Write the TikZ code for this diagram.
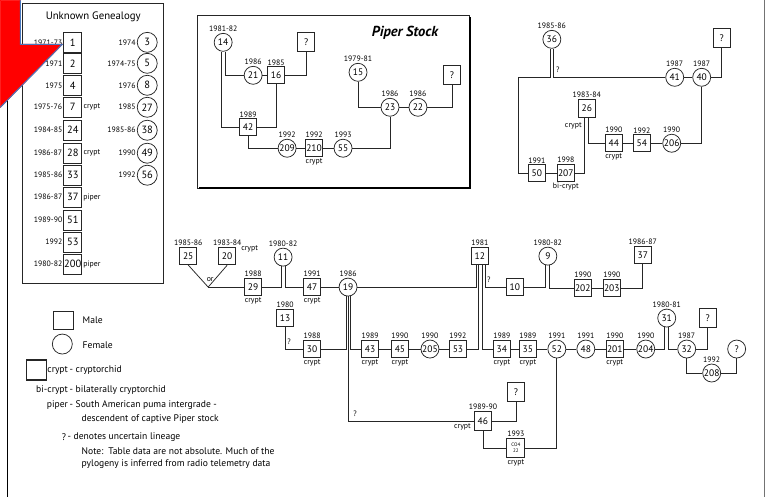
\documentclass[tikz,border=0pt]{standalone}
\usepackage{fontspec}
\setmainfont{PT Sans}
\usetikzlibrary{calc}
\begin{document}
\begin{tikzpicture}[x=1pt,y=-1pt,
  every node/.style={inner sep=0pt},
  every path/.style={line width=0.75pt, draw=black!85},
  msq/.style={draw=black!85, line width=0.75pt, minimum width=17pt, minimum height=17pt, font=\fontsize{9.5}{9.5}\selectfont},
  csq/.style={msq, line width=1.2pt},
  fcir/.style={circle, draw=black!85, line width=0.75pt, minimum size=18pt, font=\fontsize{9.5}{9.5}\selectfont},
  usq/.style={msq, minimum width=18pt, minimum height=20pt, font=\fontsize{10.5}{10.5}\selectfont},
  ucsq/.style={usq, line width=1.2pt},
  ucir/.style={fcir, minimum size=20pt, font=\fontsize{10.5}{10.5}\selectfont},
  yr/.style={font=\fontsize{7.8}{7.8}\selectfont, inner sep=0.8pt},
  lab/.style={font=\fontsize{9.6}{11}\selectfont},
]
\useasboundingbox (0,0) rectangle (769,497);
\fill[white] (0,0) rectangle (769,497);

% frame lines
\draw[line width=1.4pt, black] (7,100) -- (7,497);
\draw[line width=1pt, black!55] (765,0) -- (765,497);

% ---------- Unknown Genealogy ----------
\draw[line width=0.9pt] (22,3) rectangle (163,283);
\node[font=\fontsize{10.8}{11}\selectfont] (ugt) at (93,16) {Unknown Genealogy};
\node[usq, label={[yr]left:1971-73}] (u1) at (72.5,42) {1};
\node[usq, label={[yr]left:1971}] (u2) at (72.5,63) {2};
\node[usq, label={[yr]left:1975}] (u4) at (72.5,85) {4};
\node[ucsq, label={[yr]left:1975-76}, label={[yr]right:crypt}] (u7) at (72.5,107) {7};
\node[usq, label={[yr]left:1984-85}] (u24) at (72.5,130) {24};
\node[ucsq, label={[yr]left:1986-87}, label={[yr]right:crypt}] (u28) at (72.5,153) {28};
\node[usq, label={[yr]left:1985-86}] (u33) at (72.5,175) {33};
\node[usq, label={[yr]left:1986-87}, label={[yr]right:piper}] (u37) at (72.5,197) {37};
\node[usq, label={[yr]left:1989-90}] (u51) at (72.5,220) {51};
\node[usq, label={[yr]left:1992}] (u53) at (72.5,242) {53};
\node[usq, label={[yr]left:1980-82}, label={[yr]right:piper}] (u200) at (72.5,264) {200};
\node[ucir, label={[yr]left:1974}] (u3) at (147,42) {3};
\node[ucir, label={[yr]left:1974-75}] (u5) at (147,63) {5};
\node[ucir, label={[yr]left:1976}] (u8) at (147,85) {8};
\node[ucir, label={[yr]left:1985}] (u27) at (147,107) {27};
\node[ucir, label={[yr]left:1985-86}] (u38) at (147,130) {38};
\node[ucir, label={[yr]left:1990}] (u49) at (147,153) {49};
\node[ucir, label={[yr]left:1992}] (u56) at (147,175) {56};

% ---------- Piper Stock ----------
\draw[line width=0.9pt] (197,15) rectangle (470,188);
\draw[line width=2.6pt, black] (470,17) -- (470,188) -- (199,188);
\node[font=\fontsize{14.5}{14.5}\selectfont\bfseries\itshape] (pst) at (405,32) {Piper Stock};
\node[fcir, label={[yr]above:1981-82}] (p14) at (223,42) {14};
\node[fcir, label={[yr]above:1986}] (p21) at (253,75) {21};
\node[msq, label={[yr]above:1985}] (p16) at (276,75) {16};
\node[msq, minimum height=19pt] (pq1) at (306,42) {?};
\node[msq, label={[yr]above:1989}] (p42) at (248,127) {42};
\node[fcir, label={[yr]above:1992}] (p209) at (287,148) {209};
\node[csq, label={[yr]above:1992}, label={[yr]below:crypt}] (p210) at (314,148) {210};
\node[fcir, label={[yr]above:1993}] (p55) at (343,148) {55};
\node[fcir, label={[yr]above:1979-81}] (p15) at (358,72) {15};
\node[fcir, label={[yr]above:1986}] (p23) at (390,107) {23};
\node[fcir, label={[yr]above:1986}] (p22) at (418,107) {22};
\node[msq, minimum height=19pt] (pq2) at (452,75) {?};

\draw ([xshift=2pt]p14.south) |- (p21.west);
\draw ([xshift=-2pt]p14.south) |- (p42.west);
\draw (p21) -- (p16);
\draw (p16.east) -| (pq1.south);
\draw (p16.south) |- (p42.east);
\draw (p42.south) |- (p209.west);
\draw (p209) -- (p210);
\draw (p210) -- (p55);
\draw (p55.east) -| (p23.south);
\draw (p15.south) |- (p23.west);
\draw (p23) -- (p22);
\draw (p22.east) -| (pq2.south);

% ---------- top right cluster ----------
\node[fcir, label={[yr]above:1985-86}] (t36) at (552,39) {36};
\node[msq, minimum height=19pt] (tq) at (722,38) {?};
\node[fcir, label={[yr]above:1987}] (t41) at (675,77) {41};
\node[fcir, label={[yr]above:1987}] (t40) at (702,77) {40};
\node[csq, minimum height=18pt, label={[yr]above:1983-84}] (t26) at (587,108) {26};
\node[yr, anchor=east] (t26c) at (583,126) {crypt};
\node[csq, label={[yr]above:1990}, label={[yr]below:crypt}] (t44) at (614,143) {44};
\node[msq, label={[yr]above:1992}] (t54) at (642,143) {54};
\node[fcir, label={[yr]above:1990}] (t206) at (672,143) {206};
\node[msq, label={[yr]above:1991}] (t50) at (537,173) {50};
\node[csq, label={[yr]above:1998}, label={[yr]below:bi-crypt}] (t207) at (566,173) {207};
\coordinate (tL) at (518,77);

\draw ([xshift=-1.5pt]t36.south) |- (tL) |- (t50.west);
\draw ([xshift=1.5pt]t36.south) |- (t41.west);
\node[yr] (tq36) at (558,69) {?};
\draw (t41) -- (t40);
\draw (t40.east) -| (tq.south);
\draw (t40.south) |- (t206.east);
\draw (t206) -- (t54);
\draw (t54) -- (t44);
\draw ([xshift=2pt]t26.south) |- (t44.west);
\draw ([xshift=-2pt]t26.south) |- (t207.east);
\draw (t50) -- (t207);

% ---------- main chart ----------
\node[msq, label={[yr]above:1985-86}] (n25) at (188,256) {25};
\node[csq, label={[yr]above:1983-84}] (n20) at (227,256) {20};
\node[yr, anchor=west] (n20c) at (240,249) {crypt};
\coordinate (nor) at (208,287);
\node[yr] (orl) at (210,279) {or};
\node[csq, label={[yr]above:1988}, label={[yr]below:crypt}] (n29) at (253,287) {29};
\node[fcir, label={[yr]above:1980-82}] (n11) at (283,257) {11};
\node[csq, label={[yr]above:1991}, label={[yr]below:crypt}] (n47) at (312,287) {47};
\node[fcir, label={[yr]above:1986}] (n19) at (348,287) {19};
\node[msq, label={[yr]above:1980}] (n13) at (285,318) {13};
\node[csq, label={[yr]above:1988}, label={[yr]below:crypt}] (n30) at (312,349) {30};
\node[csq, label={[yr]above:1989}, label={[yr]below:crypt}] (n43) at (370,349) {43};
\node[csq, label={[yr]above:1990}, label={[yr]below:crypt}] (n45) at (400,349) {45};
\node[fcir, label={[yr]above:1990}] (n205) at (430,349) {205};
\node[msq, label={[yr]above:1992}] (n53) at (458,349) {53};
\node[msq, label={[yr]above:1981}] (n12) at (480,256) {12};
\node[msq] (n10) at (515,287) {10};
\node[fcir, label={[yr]above:1980-82}] (n9) at (548,256) {9};
\node[msq, label={[yr]above:1990}] (n202) at (583,288) {202};
\node[msq, label={[yr]above:1990}] (n203) at (612,288) {203};
\node[msq, label={[yr]above:1986-87}] (n37) at (643,255) {37};
\node[csq, label={[yr]above:1989}, label={[yr]below:crypt}] (n34) at (502,349) {34};
\node[csq, label={[yr]above:1989}, label={[yr]below:crypt}] (n35) at (528,349) {35};
\node[fcir, label={[yr]above:1991}] (n52) at (557,349) {52};
\node[fcir, label={[yr]above:1991}] (n48) at (586,349) {48};
\node[csq, label={[yr]above:1990}, label={[yr]below:crypt}] (n201) at (615,349) {201};
\node[fcir, label={[yr]above:1990}] (n204) at (646,349) {204};
\node[fcir, label={[yr]above:1980-81}] (n31) at (667,318) {31};
\node[msq, minimum height=19pt] (nq1) at (708,318) {?};
\node[fcir, label={[yr]above:1987}] (n32) at (687,349) {32};
\node[fcir] (nq2) at (737,349) {?};
\node[fcir, label={[yr]above:1992}] (n208) at (712,373) {208};
\node[msq, minimum height=19pt] (nq3) at (516,392) {?};
\node[csq, minimum height=19pt, label={[yr]above:1989-90}] (n46) at (483,421) {46};
\node[yr, anchor=east] (n46c) at (472,427) {crypt};
\node[csq, minimum width=18pt, minimum height=19pt, font=\fontsize{5}{5.5}\selectfont, align=center, label={[yr]above:1993}, label={[yr]below:crypt}] (nco) at (516,448) {CO4\\22};

\draw (n25.south) -- (nor);
\draw (n20.south) -- (nor);
\draw (nor) -- (n29.west);
\draw ([xshift=-2pt]n11.south) |- (n29.east);
\draw ([xshift=2pt]n11.south) |- (n47.west);
\draw (n47) -- (n19);
\draw (n19.east) -| ([xshift=-4pt]n12.south);
\draw ([xshift=-1.7pt]n12.south) |- (n53.east);
\draw ([xshift=2.7pt]n12.south) |- (n34.west);
\draw ([xshift=5pt]n12.south) |- (n10.west);
\node[yr] (q12) at (489,280) {?};
\draw (n10.east) -| ([xshift=-2pt]n9.south);
\draw ([xshift=2pt]n9.south) |- (n202.west);
\draw (n202) -- (n203);
\draw (n203.east) -| (n37.south);
\draw ([xshift=-2pt]n19.south) |- (n30.east);
\draw ([xshift=2pt]n19.south) |- (n43.west);
\draw (n19.south) |- (n46.west);
\node[yr] (q19) at (355,414) {?};
\draw (n13.south) |- (n30.west);
\node[yr] (q13) at (289,342) {?};
\draw (n43) -- (n45);
\draw (n45) -- (n205);
\draw (n205) -- (n53);
\draw (n34) -- (n35);
\draw (n35) -- (n52);
\draw (n52) -- (n48);
\draw (n48) -- (n201);
\draw (n201) -- (n204);
\draw (n204.east) -| ([xshift=-2pt]n31.south);
\draw ([xshift=2pt]n31.south) |- (n32.west);
\draw (n32.east) -| (nq1.south);
\draw (n32.south) |- (n208.west);
\draw (n208.east) -| (nq2.south);
\draw (n46.east) -| (nq3.south);
\draw (n46.south) |- (nco.west);
\draw (nco.east) -| (n52.south);

% ---------- legend ----------
\node[msq, minimum width=20pt, minimum height=18pt] (lm) at (63,320) {};
\node[lab, anchor=west] (lmt) at (82,320) {Male};
\node[fcir, minimum size=20pt] (lf) at (62,344) {};
\node[lab, anchor=west] (lft) at (82,345) {Female};
\node[csq, minimum width=20pt, minimum height=20pt] (lc) at (36,370) {};
\node[lab, anchor=east] (k1) at (68,370) {crypt};
\node[lab, anchor=west] (d1) at (69,370) {- cryptorchid};
\node[lab, anchor=east] (k2) at (68,390) {bi-crypt};
\node[lab, anchor=west] (d2) at (69,390) {- bilaterally cryptorchid};
\node[lab, anchor=east] (k3) at (68,405) {piper};
\node[lab, anchor=west] (d3) at (69,405) {- South American puma intergrade -};
\node[lab, anchor=west] (d3b) at (81,419) {descendent of captive Piper stock};
\node[lab, anchor=east] (k4) at (66,437) {?};
\node[lab, anchor=west] (d4) at (67,437) {- denotes uncertain lineage};
\node[lab, anchor=west] (n1) at (81,451) {Note:\ \ Table data are not absolute. Much of the};
\node[lab, anchor=west] (n2) at (81,464) {pylogeny is inferred from radio telemetry data};

% ---------- red corner shape ----------
\fill[red] (0,0) -- (20,0) -- (20,44) -- (62,44) -- (0,107) -- cycle;
\draw[line width=1pt, draw={rgb,255:red,70;green,120;blue,190}] (20,0) -- (20,44) -- (62,44) -- (0,107);
\end{tikzpicture}
\end{document}
